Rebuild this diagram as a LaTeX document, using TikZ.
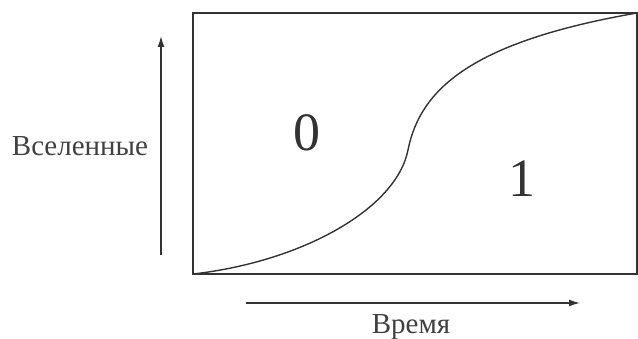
\documentclass[tikz,border=0pt]{standalone}
\usepackage{fontspec}
\setmainfont{Liberation Serif}
\usetikzlibrary{arrows.meta}
\begin{document}
\begin{tikzpicture}[x=1pt,y=-1pt,
  line/.style={line width=1.4pt,draw=black!80},
  axis/.style={line width=1.4pt,draw=black!80,-{Latex[length=11pt,width=7pt]}},
  lbl/.style={font=\fontsize{29}{33}\selectfont,text=black!75,inner sep=0pt},
  big/.style={font=\fontsize{54}{58}\selectfont,text=black!80,inner sep=0pt}]
\useasboundingbox (0,0) rectangle (638,339);
\coordinate (bl) at (193,274);
\coordinate (tr) at (637,13);
\draw[line] (bl) rectangle (tr);
\draw[line] (bl) .. controls (300,262) and (396,210) .. (408,150)
  .. controls (420,90) and (470,42) .. (tr);
\coordinate (ya) at (161,255);
\coordinate (yb) at (161,36);
\draw[axis] (ya) -- (yb);
\coordinate (xa) at (246,303);
\coordinate (xb) at (580,303);
\draw[axis] (xa) -- (xb);
\node[lbl] (univ) at (80,146) {Вселенные};
\node[lbl] (time) at (411,327) {Время};
\node[big] (zero) at (307,133) {0};
\node[big] (one) at (522,179) {1};
\end{tikzpicture}
\end{document}
